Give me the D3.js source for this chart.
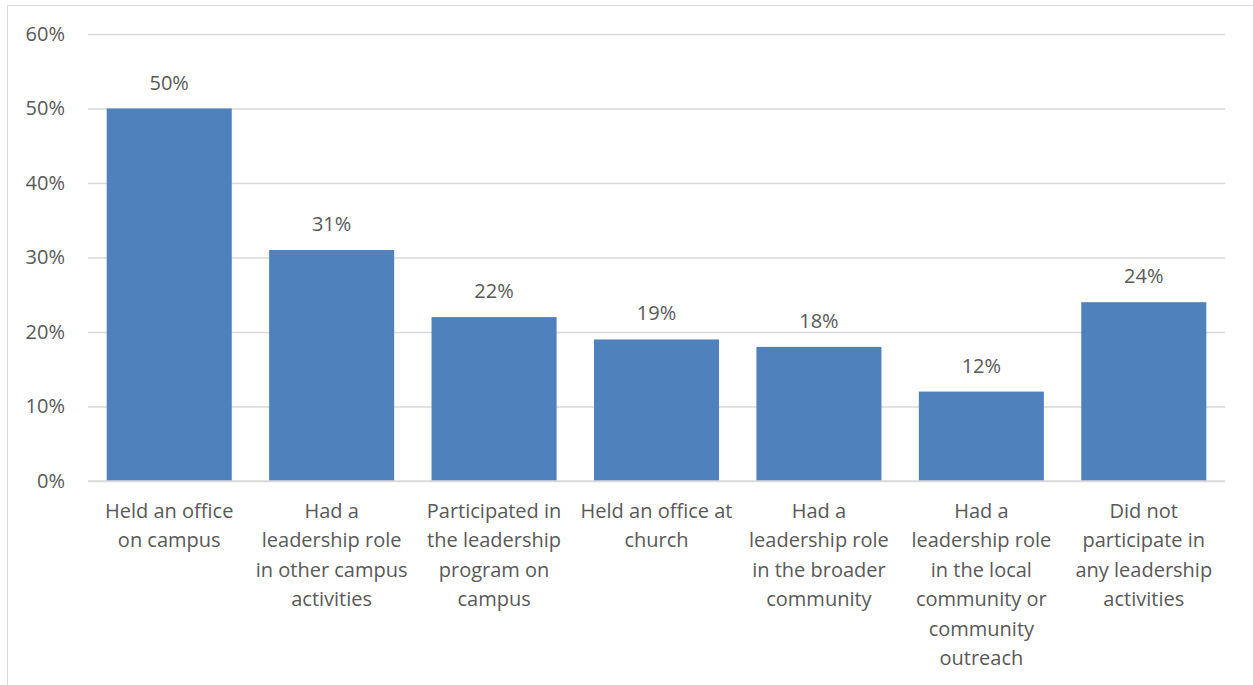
<!DOCTYPE html>
<html>
<head>
<meta charset="utf-8">
<script src="https://cdn.jsdelivr.net/npm/d3@7"></script>
<style>
  body { margin: 0; background: #fff; }
  svg { display: block; font-family: "Open Sans", sans-serif; }
</style>
</head>
<body>
<svg width="1253" height="685"></svg>
<script>
// category labels, already split into the lines Excel wrapped them into
var categories = [
    ["Held an office", "on campus"],
    ["Had a", "leadership role", "in other campus", "activities"],
    ["Participated in", "the leadership", "program on", "campus"],
    ["Held an office at", "church"],
    ["Had a", "leadership role", "in the broader", "community"],
    ["Had a", "leadership role", "in the local", "community or", "community", "outreach"],
    ["Did not", "participate in", "any leadership", "activities"]
];
var values = [0.50, 0.31, 0.22, 0.19, 0.18, 0.12, 0.24];
var yTicks = [0, 0.1, 0.2, 0.3, 0.4, 0.5, 0.6];

var svg = d3.select("svg"),
    plotLeft = 88, plotRight = 1225, plotTop = 34, plotBottom = 481,
    textColor = "#595959",
    fontSize = "20px";

// chart area border
svg.append("rect")
    .attr("x", 7.5).attr("y", 5.5)
    .attr("width", 1260).attr("height", 700)
    .attr("fill", "none")
    .attr("stroke", "#d9d9d9");

var x = d3.scaleBand()
    .domain(d3.range(categories.length))
    .range([plotLeft, plotRight])
    .paddingInner(0.23)
    .paddingOuter(0.115);

var y = d3.scaleLinear()
    .domain([0, 0.6])
    .range([plotBottom, plotTop]);

var pct = d3.format(".0%");

// gridlines + y labels
var yAxis = d3.axisLeft(y)
    .tickValues(yTicks)
    .tickFormat(pct)
    .tickSize(-(plotRight - plotLeft))
    .tickPadding(23);

svg.append("g")
    .attr("transform", "translate(" + plotLeft + ",0)")
    .call(yAxis)
    .call(function(g) {
        g.select(".domain").remove();
        g.selectAll(".tick line").attr("stroke", "#d9d9d9").attr("stroke-width", 1.3);
        g.selectAll(".tick text")
            .attr("fill", textColor)
            .style("font-size", fontSize)
            .style("font-family", "'Open Sans', sans-serif");
    });

// bars
svg.selectAll("rect.bar")
    .data(values)
    .enter().append("rect")
    .attr("class", "bar")
    .attr("x", function(d, i) { return x(i); })
    .attr("y", function(d) { return y(d); })
    .attr("width", x.bandwidth())
    .attr("height", function(d) { return y(0) - y(d); })
    .attr("fill", "#4f81bd");

// baseline redrawn over the bars
svg.append("line")
    .attr("x1", plotLeft).attr("x2", plotRight)
    .attr("y1", y(0)).attr("y2", y(0))
    .attr("stroke", "#d9d9d9")
    .attr("stroke-width", 1.3);

// value labels
svg.selectAll("text.value")
    .data(values)
    .enter().append("text")
    .attr("class", "value")
    .attr("x", function(d, i) { return x(i) + x.bandwidth() / 2; })
    .attr("y", function(d) { return y(d) - 19; })
    .attr("text-anchor", "middle")
    .attr("fill", textColor)
    .style("font-size", fontSize)
    .text(function(d) { return pct(d); });

// category labels
var cat = svg.selectAll("text.cat")
    .data(categories)
    .enter().append("text")
    .attr("class", "cat")
    .attr("text-anchor", "middle")
    .attr("fill", textColor)
    .style("font-size", fontSize);

cat.selectAll("tspan")
    .data(function(d, i) { return d.map(function(s) { return { s: s, i: i }; }); })
    .enter().append("tspan")
    .attr("x", function(d) { return x(d.i) + x.bandwidth() / 2; })
    .attr("y", function(d, j) { return plotBottom + 37 + j * 29.4; })
    .text(function(d) { return d.s; });
</script>
</body>
</html>
